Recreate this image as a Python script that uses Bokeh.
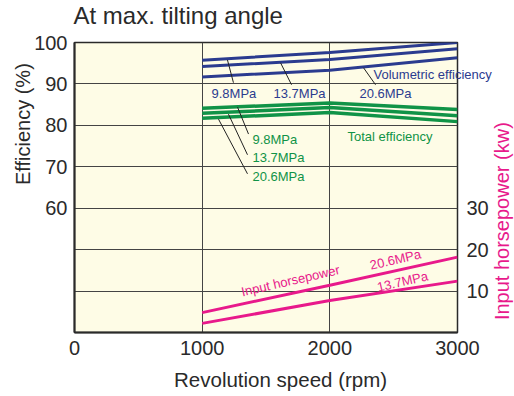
from bokeh.plotting import figure
from bokeh.models import Range1d, LinearAxis, Label, FixedTicker
from bokeh.embed import file_html
from bokeh.resources import INLINE
import math

# ---- data ----
rpm = [1000, 2000, 3000]
vol_9_8 = [95.7, 97.6, 100.0]
vol_13_7 = [94.2, 95.9, 98.5]
vol_20_6 = [91.7, 93.3, 96.3]
tot_9_8 = [84.1, 85.4, 83.8]
tot_13_7 = [82.9, 84.3, 82.3]
tot_20_6 = [81.7, 83.1, 80.9]
hp_20_6 = [4.8, 11.4, 18.2]
hp_13_7 = [2.2, 7.7, 12.4]

x_ticks = [0, 1000, 2000, 3000]
eff_ticks = [60, 70, 80, 90, 100]
hp_ticks = [10, 20, 30]

# leader lines (rpm, %)
leader_x0 = [1198, 1614, 2264, 1277, 1206, 1128]
leader_y0 = [95.8, 95.1, 93.9, 84.4, 82.7, 81.5]
leader_x1 = [1245, 1700, 2358, 1363, 1355, 1355]
leader_y1 = [90.3, 89.8, 89.8, 77.9, 72.9, 68.3]

BLUE = "#2b3b8f"
GREEN = "#109347"
PINK = "#e8198b"
DARK = "#2a2a2a"
BG = "#fefce6"
FONT = "Liberation Sans"

p = figure(width=514, height=396, frame_width=383, frame_height=290,
           x_range=Range1d(0, 3000), y_range=Range1d(30, 100),
           output_backend="svg", toolbar_location=None, title_location=None,
           min_border_left=74, min_border_top=40, min_border_right=57, min_border_bottom=60)
p.extra_y_ranges = {"hp": Range1d(0, 70)}
p.background_fill_color = BG
p.border_fill_color = "white"
p.outline_line_color = DARK
p.outline_line_width = 1.5

# axes
for ax in [p.xaxis[0], p.yaxis[0]]:
    ax.axis_line_color = DARK
    ax.axis_line_width = 2
    ax.major_tick_in = 0
    ax.major_tick_out = 0
    ax.minor_tick_in = 0
    ax.minor_tick_out = 0
    ax.major_label_text_font = FONT
    ax.major_label_text_font_size = "20px"
    ax.major_label_text_color = DARK
p.xaxis.ticker = FixedTicker(ticks=x_ticks)
p.xaxis.major_label_standoff = 8
p.yaxis.ticker = FixedTicker(ticks=eff_ticks)
p.yaxis.major_label_standoff = 7

rax = LinearAxis(y_range_name="hp", ticker=FixedTicker(ticks=hp_ticks))
rax.axis_line_color = None
rax.major_tick_in = 0
rax.major_tick_out = 0
rax.minor_tick_in = 0
rax.minor_tick_out = 0
rax.major_label_text_font = FONT
rax.major_label_text_font_size = "20px"
rax.major_label_text_color = DARK
rax.major_label_standoff = 9
p.add_layout(rax, "right")


def side_lab(side, x, y, t, color=DARK, size="20px", align="center", angle=0.0):
    p.add_layout(Label(x=x, y=y, text=t, text_color=color, text_font=FONT,
                       text_font_size=size, text_align=align, text_baseline="middle",
                       angle=angle), side)


# outer texts (placed in side panels so they are not clipped to the frame)
side_lab("above", -8, 106.5, "At max. tilting angle", size="24px", align="left")
side_lab("above", 2342, 92.16, "Volumetric efficiency", color=BLUE, size="13px", align="left")
side_lab("left", -407, 80.29, "Efficiency (%)", angle=math.pi / 2)
side_lab("below", 1614, 18.66, "Revolution speed (rpm)", size="20.5px")
side_lab("right", 3352, 56.88, "Input horsepower (kw)", color=PINK, angle=math.pi / 2)

# grid
p.xgrid.ticker = FixedTicker(ticks=[1000, 2000])
p.ygrid.ticker = FixedTicker(ticks=[40, 50, 60, 70, 80, 90])
p.xgrid.grid_line_color = "#444444"
p.ygrid.grid_line_color = "#444444"
p.xgrid.grid_line_width = 1
p.ygrid.grid_line_width = 1

# series
for ys in [vol_9_8, vol_13_7, vol_20_6]:
    p.line(rpm, ys, line_color=BLUE, line_width=3)
for ys in [tot_9_8, tot_13_7, tot_20_6]:
    p.line(rpm, ys, line_color=GREEN, line_width=3.5)
for ys in [hp_20_6, hp_13_7]:
    p.line(rpm, ys, line_color=PINK, line_width=3, y_range_name="hp")

p.segment(leader_x0, leader_y0, leader_x1, leader_y1, line_color="#222222", line_width=1)


def lab(x, y, t, color=DARK, size="13px", align="left", angle=0.0, yr="default"):
    p.add_layout(Label(x=x, y=y, text=t, text_color=color, text_font=FONT,
                       text_font_size=size, text_align=align, text_baseline="middle",
                       angle=angle, y_range_name=yr))


# annotations inside the plot area
lab(1073, 87.8, "9.8MPa", color=BLUE)
lab(1559, 87.8, "13.7MPa", color=BLUE)
lab(2232, 87.8, "20.6MPa", color=BLUE)
lab(1394, 76.7, "9.8MPa", color=GREEN)
lab(1394, 72.2, "13.7MPa", color=GREEN)
lab(1394, 67.6, "20.6MPa", color=GREEN)
lab(2138, 77.4, "Total efficiency", color=GREEN)
a = math.radians(13)
lab(1692, 12.5, "Input horsepower", color=PINK, align="center", angle=a, yr="hp")
lab(2514, 17.6, "20.6MPa", color=PINK, align="center", angle=a, yr="hp")
lab(2569, 12.3, "13.7MPa", color=PINK, align="center", angle=a, yr="hp")

open("out.html", "w").write(file_html(p, INLINE))
